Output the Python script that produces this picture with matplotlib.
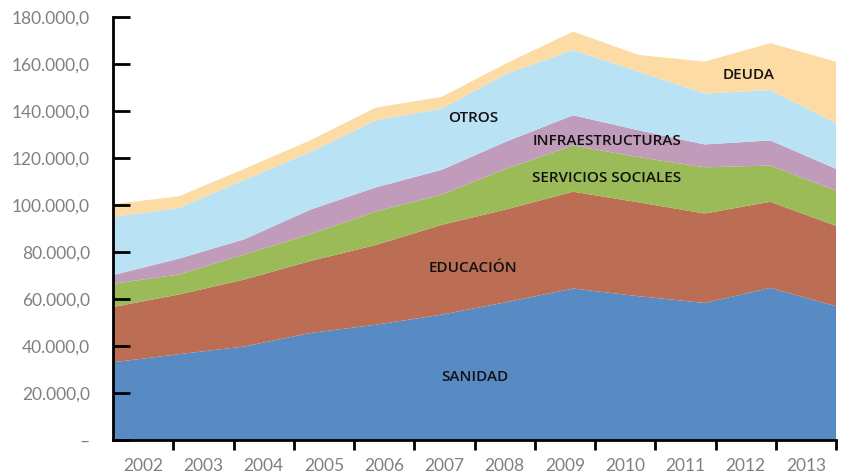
import numpy as np
import matplotlib
matplotlib.use('Agg')
import matplotlib.pyplot as plt
from matplotlib.ticker import FuncFormatter

# Years and stacked series (miles de euros)
years = ['2002', '2003', '2004', '2005', '2006', '2007',
         '2008', '2009', '2010', '2011', '2012', '2013']
sanidad = [33070, 36500, 39800, 45500, 49060, 53330, 58740, 64460, 61180, 58310, 64730, 56900]
educacion = [23530, 25400, 28500, 30650, 33940, 38220, 39520, 41210, 39920, 38080, 36660, 34220]
servicios = [9840, 8550, 10700, 11410, 14250, 12830, 17380, 19680, 19240, 19670, 15400, 14980]
infra = [3720, 6690, 6430, 10440, 10250, 10570, 11550, 12830, 11420, 9710, 10690, 9270]
otros = [24810, 21550, 25270, 24480, 28500, 26090, 28810, 27820, 24940, 21690, 21390, 19530]
deuda = [5430, 4970, 4700, 5000, 5460, 4960, 4500, 7800, 7150, 13540, 19990, 26100]

colors = ['#588BC4', '#BC6E54', '#9BBB59', '#C09BBA', '#B9E3F5', '#FCDBA5']

fig = plt.figure(figsize=(8.42, 4.75), dpi=100)
ax = fig.add_axes([113/842, 35/475, 723/842, 423/475])

n = len(years)
# points span the full axis, category labels sit between the ticks
x = np.arange(n) * n / (n - 1)
ax.stackplot(x, sanidad, educacion, servicios, infra, otros, deuda,
             colors=colors, linewidth=0)

ax.set_xlim(0, n)
ax.set_ylim(0, 180000)

for s in ['top', 'right']:
    ax.spines[s].set_visible(False)
for s in ['left', 'bottom']:
    ax.spines[s].set_linewidth(2)
    ax.spines[s].set_color('black')
    ax.spines[s].set_zorder(5)

# x ticks: marks at boundaries, labels centred on categories
ax.set_xticks(np.arange(1, n + 1))
ax.set_xticklabels([])
ax.tick_params(axis='x', which='major', direction='out', length=7, width=2, color='black')
ax.set_xticks(np.arange(n) + 0.5, minor=True)
ax.set_xticklabels(years, minor=True)
ax.tick_params(axis='x', which='minor', length=0, pad=13, labelsize=12.5, labelcolor='#808080')

def fmt(v, pos):
    if v == 0:
        return '–'
    return '{:,.1f}'.format(v).replace(',', 'X').replace('.', ',').replace('X', '.')

ax.set_yticks(np.arange(0, 180001, 20000))
ax.yaxis.set_major_formatter(FuncFormatter(fmt))
ax.tick_params(axis='y', direction='in', length=12, width=2, color='black', pad=16.5,
               labelsize=12.5, labelcolor='#808080')
for lab in ax.get_xticklabels(minor=True) + ax.get_yticklabels():
    lab.set_family(['Lato', 'DejaVu Sans'])

# series labels inside the areas
lab_kw = dict(ha='center', va='center', fontsize=11, color='#111111',
              family=['Open Sans', 'DejaVu Sans'], fontweight='semibold', zorder=6)
ax.text(6.0, 27000, 'SANIDAD', **lab_kw)
ax.text(5.98, 73300, 'EDUCACIÓN', **lab_kw)
ax.text(5.98, 136900, 'OTROS', **lab_kw)
ax.text(8.2, 127200, 'INFRAESTRUCTURAS', **lab_kw)
ax.text(8.2, 111300, 'SERVICIOS SOCIALES', **lab_kw)
ax.text(10.55, 155200, 'DEUDA', **lab_kw)

fig.savefig('out.png', dpi=100)
